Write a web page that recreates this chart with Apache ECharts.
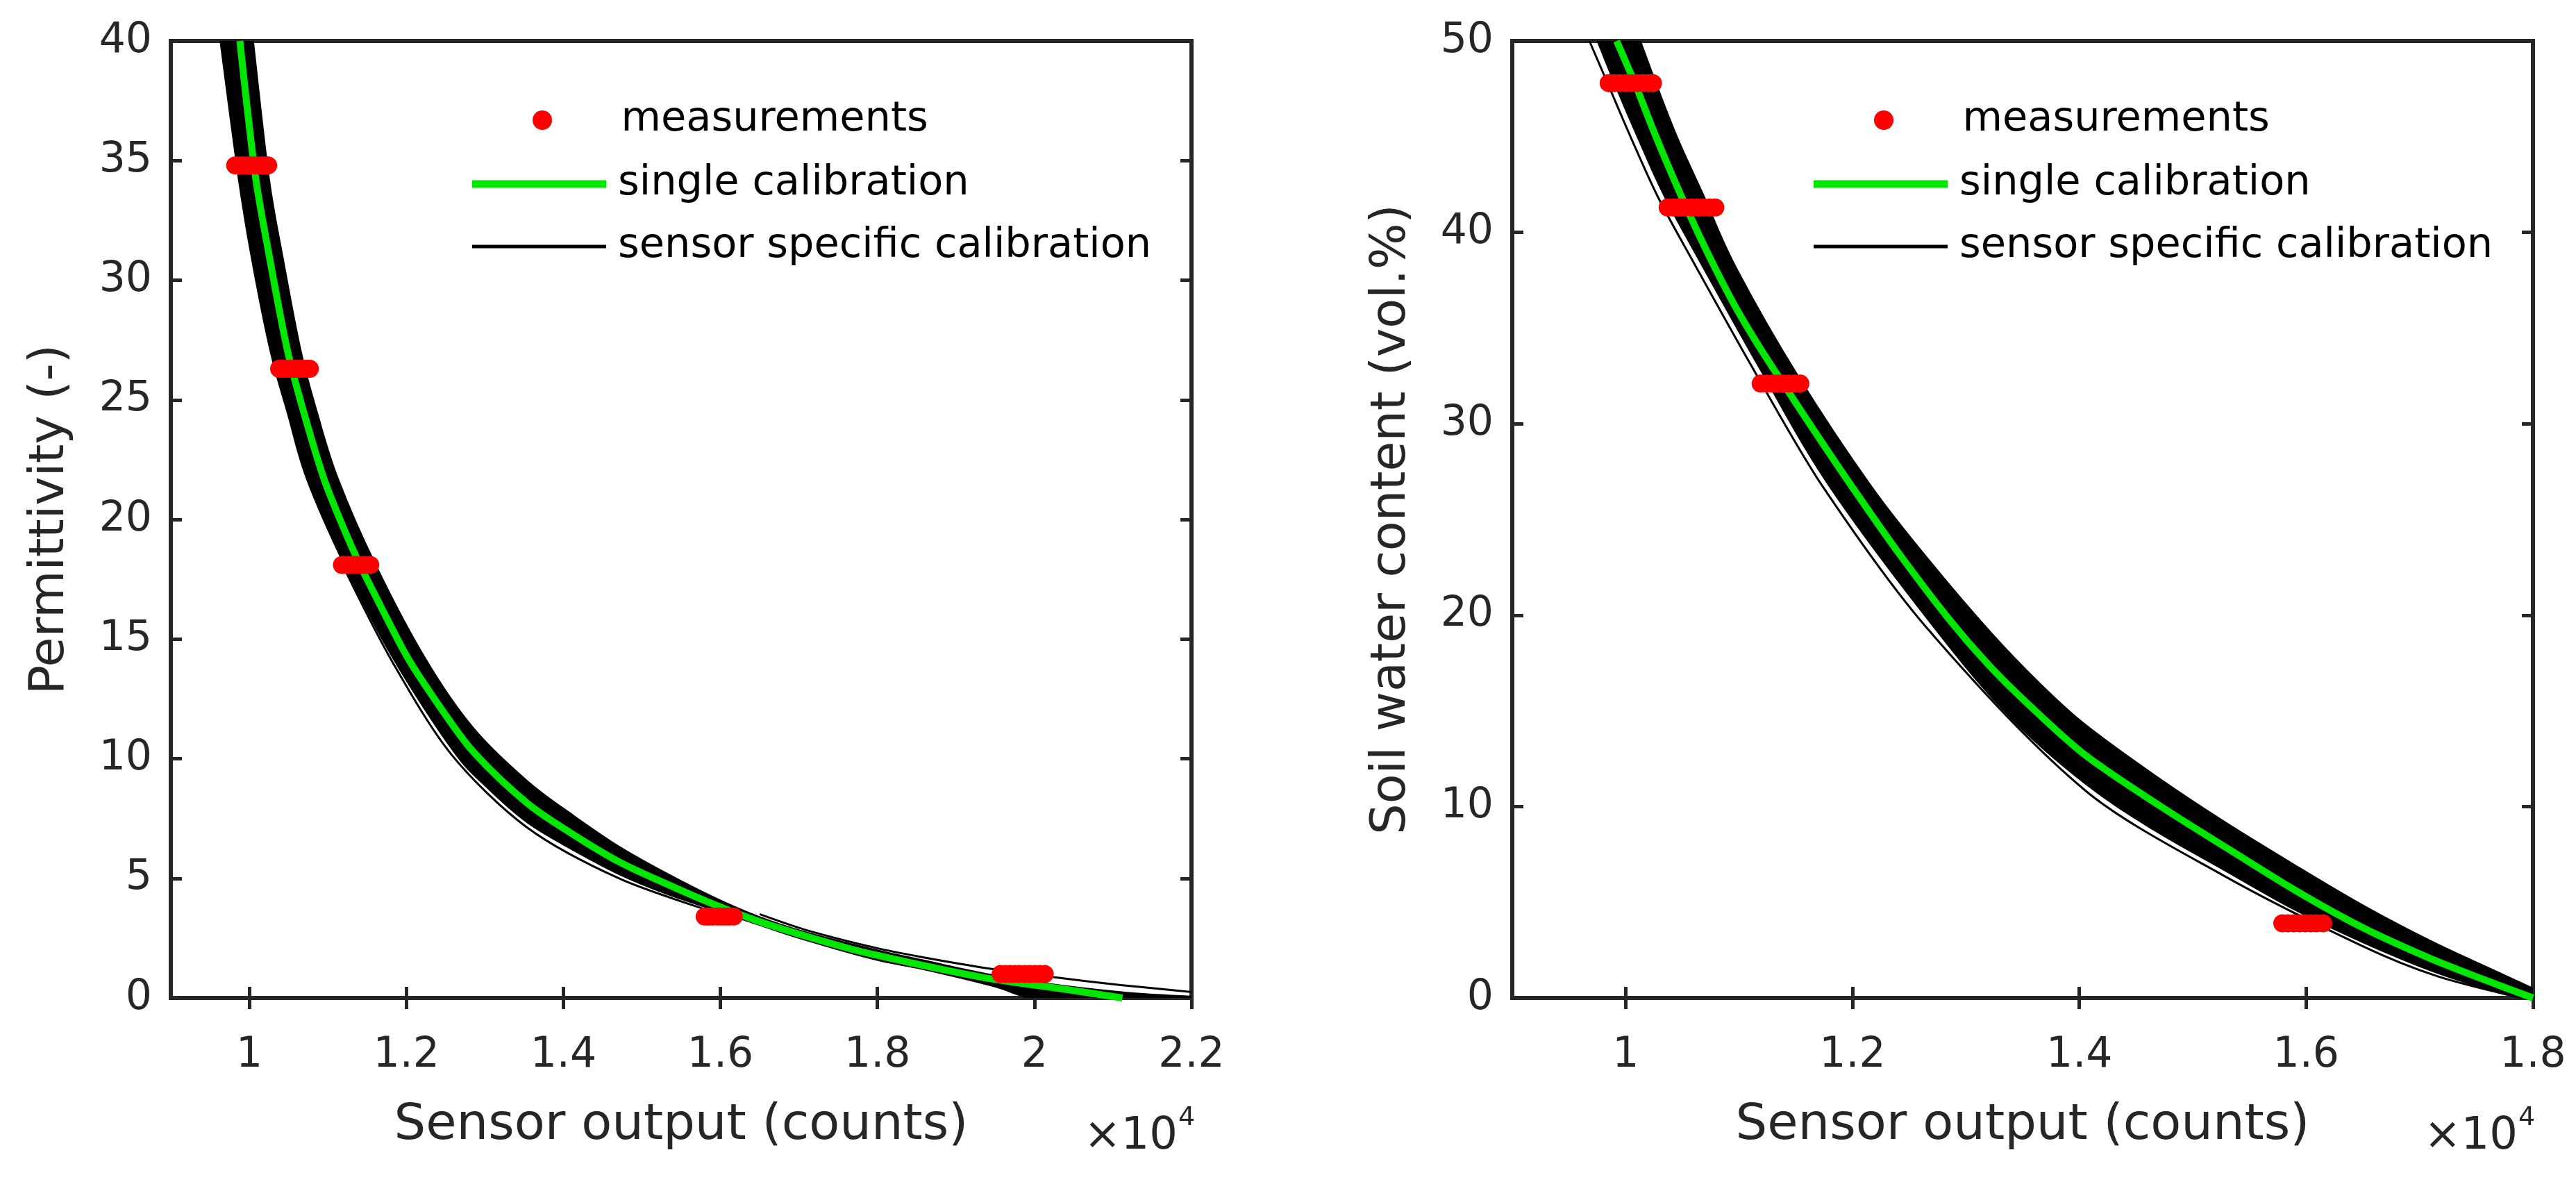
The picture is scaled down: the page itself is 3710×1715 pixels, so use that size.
<!DOCTYPE html>
<html>
<head>
<meta charset="utf-8">
<title>Sensor calibration</title>
<script src="https://cdn.jsdelivr.net/npm/echarts@6/dist/echarts.min.js"></script>
<style>
html, body { margin: 0; padding: 0; background: #fff; }
#chart { width: 3710px; height: 1715px; }
</style>
</head>
<body>
<div id="chart"></div>
<script>
// ---- left panel: permittivity vs sensor output (x in counts / 1e4) ----
const permTicksX = [1, 1.2, 1.4, 1.6, 1.8, 2, 2.2];

const permMeasLevels = [34.8, 26.3, 18.1, 3.4, 1.0];
const permMeasX = [
    [0.982, 0.987, 0.992, 0.997, 1.002, 1.007, 1.012, 1.017, 1.021, 1.024],
    [1.038, 1.043, 1.048, 1.053, 1.058, 1.063, 1.068, 1.073, 1.077],
    [1.118, 1.123, 1.128, 1.133, 1.138, 1.143, 1.148, 1.154],
    [1.580, 1.585, 1.590, 1.596, 1.601, 1.606, 1.611, 1.617],
    [1.957, 1.963, 1.969, 1.975, 1.981, 1.988, 1.994, 2.001, 2.007, 2.013]
];

const permSingleX = [0.988, 1.008, 1.026, 1.049, 1.070, 1.095, 1.118, 1.141, 1.170, 1.202, 1.240, 1.285, 1.354, 1.414, 1.472, 1.531, 1.591, 1.649, 1.708, 1.767, 1.797, 1.858, 1.944, 2.035, 2.112];
const permSingleY = [40, 34.3, 30.9, 27.0, 24.4, 21.7, 19.8, 18.1, 16.2, 14.2, 12.3, 10.3, 8.14, 6.80, 5.67, 4.77, 3.92, 3.20, 2.59, 2.04, 1.80, 1.36, 0.80, 0.38, 0];

// envelope of the sensor specific curves
const permBandLoX = [0.963, 0.986, 1.003, 1.027, 1.049, 1.073, 1.121, 1.183, 1.258, 1.300, 1.354, 1.414, 1.472, 1.531, 1.591, 1.649, 1.708, 1.797, 1.858, 1.944, 1.975, 1.990];
const permBandLoY = [40, 34.3, 30.9, 27.0, 24.4, 21.7, 18.1, 14.2, 10.4, 8.88, 7.33, 6.15, 5.15, 4.35, 3.69, 3.05, 2.42, 1.60, 1.20, 0.52, 0.18, 0];
const permBandHiX = [1.005, 1.025, 1.043, 1.066, 1.087, 1.113, 1.161, 1.224, 1.285, 1.354, 1.414, 1.472, 1.531, 1.591, 1.649, 1.708, 1.797, 1.858, 1.944, 2.035, 2.120, 2.200];
const permBandHiY = [40, 34.3, 30.9, 27.0, 24.4, 21.7, 18.1, 14.2, 11.3, 9.07, 7.60, 6.31, 5.22, 4.22, 3.40, 2.76, 2.02, 1.58, 0.98, 0.52, 0.22, 0.06];

// single sensor curves that stand out of the band
const permOutlierAX = [1.650, 1.708, 1.797, 1.858, 1.944, 2.024, 2.110, 2.200];
const permOutlierAY = [3.50, 2.85, 2.10, 1.70, 1.22, 0.87, 0.54, 0.25];
const permOutlierBX = [1.121, 1.183, 1.258, 1.354, 1.472, 1.591];
const permOutlierBY = [17.95, 14.0, 10.15, 7.12, 4.98, 3.60];

// ---- right panel: soil water content vs sensor output ----
const swcTicksX = [1, 1.2, 1.4, 1.6, 1.8];

const swcMeasLevels = [47.8, 41.3, 32.1, 3.9];
const swcMeasX = [
    [0.985, 0.990, 0.995, 1.000, 1.005, 1.010, 1.015, 1.020, 1.024],
    [1.037, 1.042, 1.047, 1.052, 1.058, 1.063, 1.068, 1.074, 1.079],
    [1.119, 1.124, 1.129, 1.134, 1.139, 1.144, 1.149, 1.154],
    [1.579, 1.584, 1.589, 1.594, 1.599, 1.604, 1.609, 1.615]
];

const swcSingleX = [0.992, 1.008, 1.026, 1.049, 1.070, 1.095, 1.118, 1.141, 1.170, 1.202, 1.240, 1.285, 1.320, 1.354, 1.405, 1.472, 1.531, 1.591, 1.649, 1.708, 1.755, 1.800];
const swcSingleY = [50.0, 47.8, 45.1, 41.9, 39.2, 36.3, 34.0, 31.9, 29.3, 26.5, 23.3, 19.8, 17.4, 15.4, 12.7, 10.0, 7.8, 5.6, 3.7, 2.1, 1.0, 0];

const swcBandLoX = [0.975, 0.990, 1.011, 1.034, 1.068, 1.120, 1.180, 1.274, 1.340, 1.405, 1.465, 1.527, 1.590, 1.650, 1.711, 1.765, 1.790];
const swcBandLoY = [50, 47.8, 44.9, 41.9, 38.2, 32.7, 26.7, 19.2, 14.6, 11.2, 8.8, 6.7, 4.6, 2.9, 1.4, 0.35, 0];
const swcBandHiX = [1.013, 1.028, 1.046, 1.069, 1.097, 1.152, 1.217, 1.270, 1.322, 1.365, 1.405, 1.465, 1.527, 1.590, 1.650, 1.711, 1.760, 1.800];
const swcBandHiY = [50, 47.6, 44.9, 41.9, 38.2, 32.5, 26.7, 22.7, 19.1, 16.45, 14.3, 11.7, 9.25, 6.95, 4.85, 2.95, 1.6, 0.5];

const swcOutlierX = [0.968, 0.984, 1.005, 1.028, 1.062, 1.114, 1.174, 1.266, 1.405, 1.527, 1.650, 1.715, 1.790];
const swcOutlierY = [50, 47.8, 44.9, 41.9, 38.2, 32.7, 26.7, 19.3, 10.85, 6.4, 2.7, 1.15, 0];

const FONT = 'DejaVu Sans';
const AXIS_COLOR = '#262626';
const GREEN = '#00e600';
const RED = '#ff0000';

function zip(xs, ys) {
    return xs.map((x, i) => [x, ys[i]]);
}

function measurementPoints(levels, xs) {
    let pts = [];
    levels.forEach((y, i) => {
        xs[i].forEach(x => pts.push([x, y]));
    });
    return pts;
}

// catmull-rom through pixel points, written as cubic bezier commands
function curveThrough(pts) {
    let d = '';
    for (let i = 0; i < pts.length - 1; i++) {
        const p0 = pts[Math.max(i - 1, 0)];
        const p1 = pts[i];
        const p2 = pts[i + 1];
        const p3 = pts[Math.min(i + 2, pts.length - 1)];
        const c1 = [p1[0] + (p2[0] - p0[0]) / 6, p1[1] + (p2[1] - p0[1]) / 6];
        const c2 = [p2[0] - (p3[0] - p1[0]) / 6, p2[1] - (p3[1] - p1[1]) / 6];
        d += ' C' + c1[0].toFixed(1) + ',' + c1[1].toFixed(1) + ' ' +
            c2[0].toFixed(1) + ',' + c2[1].toFixed(1) + ' ' +
            p2[0].toFixed(1) + ',' + p2[1].toFixed(1);
    }
    return d;
}

function tickStyle(values) {
    let t = {
        inside: true,
        length: 16,
        lineStyle: {color: AXIS_COLOR, width: 5}
    };
    if (values) {
        t.customValues = values;
    }
    return t;
}

function xAxesFor(gridIndex, max, ticks) {
    return [{
        type: 'value', gridIndex: gridIndex, position: 'bottom',
        min: 0.9, max: max,
        axisLine: {show: false},
        splitLine: {show: false},
        axisTick: tickStyle(ticks),
        axisLabel: {
            customValues: ticks,
            formatter: v => String(Math.round(v * 10) / 10),
            margin: 53, fontSize: 60, fontFamily: FONT, color: AXIS_COLOR
        },
        name: 'Sensor output (counts)',
        nameLocation: 'middle', nameGap: 148,
        nameTextStyle: {fontSize: 72, fontFamily: FONT, color: AXIS_COLOR}
    }, {
        type: 'value', gridIndex: gridIndex, position: 'top',
        min: 0.9, max: max,
        axisLine: {show: false},
        splitLine: {show: false},
        axisTick: tickStyle(ticks),
        axisLabel: {show: false, customValues: ticks}
    }];
}

function yAxesFor(gridIndex, max, interval, title) {
    return [{
        type: 'value', gridIndex: gridIndex, position: 'left',
        min: 0, max: max, interval: interval,
        axisLine: {show: false},
        splitLine: {show: false},
        axisTick: tickStyle(),
        axisLabel: {margin: 27, fontSize: 60, fontFamily: FONT, color: AXIS_COLOR},
        name: title,
        nameLocation: 'middle', nameGap: 138,
        nameTextStyle: {fontSize: 70, fontFamily: FONT, color: AXIS_COLOR}
    }, {
        type: 'value', gridIndex: gridIndex, position: 'right',
        min: 0, max: max, interval: interval,
        axisLine: {show: false},
        splitLine: {show: false},
        axisTick: tickStyle(),
        axisLabel: {show: false}
    }];
}

function bandSeries(xIdx, yIdx, loX, loY, hiX, hiY) {
    const lo = zip(loX, loY);
    const hi = zip(hiX, hiY).reverse();
    return {
        type: 'custom', name: 'sensor specific calibration',
        xAxisIndex: xIdx, yAxisIndex: yIdx,
        clip: true, silent: true, z: 2,
        data: [0],
        renderItem: function (params, api) {
            const loPx = lo.map(p => api.coord(p));
            const hiPx = hi.map(p => api.coord(p));
            // bottom of the band runs along the x axis up to the last upper point
            const foot = api.coord([hiX[hiX.length - 1], 0]);
            let d = 'M' + loPx[0][0].toFixed(1) + ',' + loPx[0][1].toFixed(1) + curveThrough(loPx);
            d += ' L' + foot[0].toFixed(1) + ',' + foot[1].toFixed(1);
            d += ' L' + hiPx[0][0].toFixed(1) + ',' + hiPx[0][1].toFixed(1) + curveThrough(hiPx) + ' Z';
            return {
                type: 'path',
                shape: {pathData: d},
                style: {fill: '#000', stroke: '#000', lineWidth: 2}
            };
        }
    };
}

function thinSeries(xIdx, yIdx, data) {
    return {
        type: 'line', name: 'sensor specific calibration',
        xAxisIndex: xIdx, yAxisIndex: yIdx,
        data: data, showSymbol: false, symbol: 'none', smooth: 0.3,
        lineStyle: {color: '#000', width: 3}, z: 3, silent: true
    };
}

function singleSeries(xIdx, yIdx, data) {
    return {
        type: 'line', name: 'single calibration',
        xAxisIndex: xIdx, yAxisIndex: yIdx,
        data: data, showSymbol: false, symbol: 'none', smooth: 0.3,
        lineStyle: {color: GREEN, width: 10}, z: 4, silent: true
    };
}

function measSeries(xIdx, yIdx, data) {
    return {
        type: 'scatter', name: 'measurements',
        xAxisIndex: xIdx, yAxisIndex: yIdx,
        data: data, symbol: 'circle', symbolSize: 26,
        itemStyle: {color: RED, opacity: 1}, z: 5, silent: true
    };
}

function legendRow(left, center, name, icon, w, h, color) {
    return {
        left: left, top: center - 30, padding: 0,
        itemWidth: w, itemHeight: h, selectedMode: false,
        data: [{name: name, icon: icon, itemStyle: {color: color, borderWidth: 0, opacity: 1}}],
        textStyle: {fontSize: 59, fontFamily: FONT, color: '#000', lineHeight: 60, padding: [0, 0, 0, 12]}
    };
}

function legendsAt(left) {
    return [
        legendRow(left + 87, 173, 'measurements', 'circle', 193, 28, RED),
        legendRow(left, 265, 'single calibration', 'rect', 193, 11, GREEN),
        legendRow(left, 355, 'sensor specific calibration', 'rect', 193, 5, '#000')
    ];
}

function exponentLabel(right) {
    return [{
        type: 'text', x: right - 22, y: 1637,
        style: {text: '\u00d710', fill: AXIS_COLOR, font: '64px "DejaVu Sans"',
            textAlign: 'right', textVerticalAlign: 'middle', align: 'right', verticalAlign: 'middle'}
    }, {
        type: 'text', x: right - 21, y: 1610,
        style: {text: '4', fill: AXIS_COLOR, font: '38px "DejaVu Sans"',
            textAlign: 'left', textVerticalAlign: 'middle', align: 'left', verticalAlign: 'middle'}
    }];
}

const chart = echarts.init(document.getElementById('chart'), null, {renderer: 'canvas'});

const option = {
    animation: false,
    backgroundColor: '#fff',
    grid: [
        {left: 246, top: 59, width: 1470, height: 1378, show: true, borderColor: AXIS_COLOR, borderWidth: 6,
            backgroundColor: 'transparent', containLabel: false, outerBoundsMode: 'none'},
        {left: 2178, top: 59, width: 1470, height: 1378, show: true, borderColor: AXIS_COLOR, borderWidth: 6,
            backgroundColor: 'transparent', containLabel: false, outerBoundsMode: 'none'}
    ],
    xAxis: xAxesFor(0, 2.2, permTicksX).concat(xAxesFor(1, 1.8, swcTicksX)),
    yAxis: yAxesFor(0, 40, 5, 'Permittivity (-)').concat(yAxesFor(1, 50, 10, 'Soil water content (vol.%)')),
    legend: legendsAt(680).concat(legendsAt(2612)),
    graphic: exponentLabel(1718).concat(exponentLabel(3648)),
    series: [
        bandSeries(0, 0, permBandLoX, permBandLoY, permBandHiX, permBandHiY),
        thinSeries(0, 0, zip(permOutlierAX, permOutlierAY)),
        thinSeries(0, 0, zip(permOutlierBX, permOutlierBY)),
        singleSeries(0, 0, zip(permSingleX, permSingleY)),
        measSeries(0, 0, measurementPoints(permMeasLevels, permMeasX)),

        bandSeries(2, 2, swcBandLoX, swcBandLoY, swcBandHiX, swcBandHiY),
        thinSeries(2, 2, zip(swcOutlierX, swcOutlierY)),
        singleSeries(2, 2, zip(swcSingleX, swcSingleY)),
        measSeries(2, 2, measurementPoints(swcMeasLevels, swcMeasX))
    ]
};

chart.setOption(option);
</script>
</body>
</html>
